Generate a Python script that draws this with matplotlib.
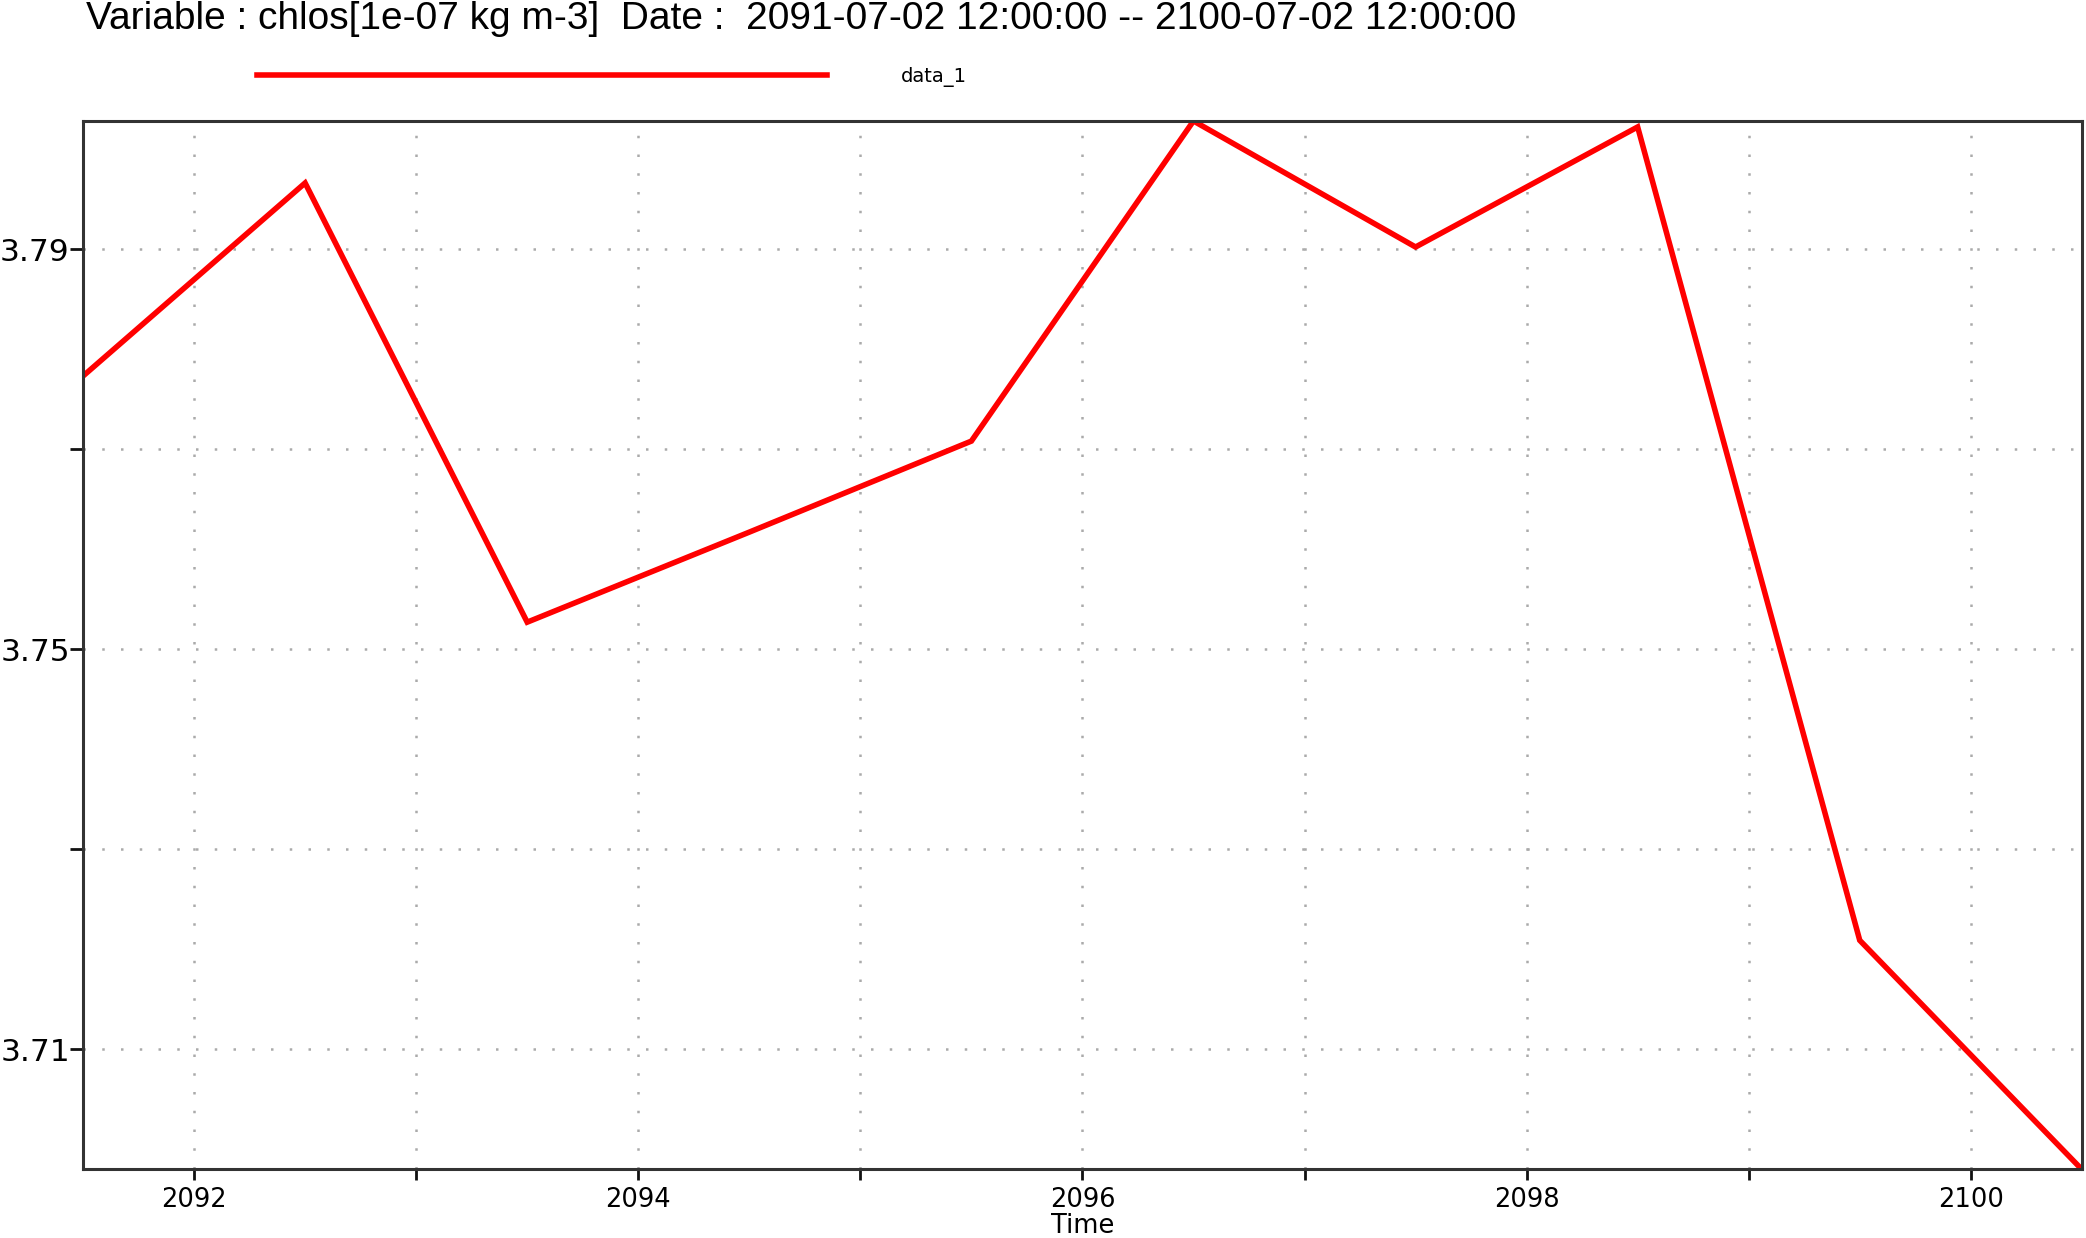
import numpy as np
import matplotlib
matplotlib.use('Agg')
import matplotlib.pyplot as plt

# annual means (mid-year), chlos in 1e-07 kg m-3
years = [2091.5, 2092.5, 2093.5, 2094.5, 2095.5, 2096.5, 2097.5, 2098.5, 2099.5, 2100.5]
chlos = [3.7773, 3.7966, 3.7527, 3.7617, 3.7708, 3.8028, 3.7902, 3.8022, 3.7209, 3.6980]

title = 'Variable : chlos[1e-07 kg m-3]  Date :  2091-07-02 12:00:00 -- 2100-07-02 12:00:00'
series_name = 'data_1'
ytick_vals = [3.71, 3.73, 3.75, 3.77, 3.79]
ytick_labels = ['3.71', '', '3.75', '', '3.79']
xtick_vals = list(range(2092, 2101))
xtick_labels = [str(y) if y % 2 == 0 else '' for y in xtick_vals]

fig = plt.figure(figsize=(20.86, 12.38), dpi=100)
ax = fig.add_axes([0.0398, 0.0554, 0.9582, 0.8469])

line, = ax.plot(years, chlos, color='#ff0000', lw=4, solid_joinstyle='miter', label=series_name)

ax.set_xlim(min(years), max(years))
ax.set_ylim(min(chlos), max(chlos))

ax.set_yticks(ytick_vals)
ax.set_yticklabels(ytick_labels)
ax.set_xticks(xtick_vals)
ax.set_xticklabels(xtick_labels)
ax.tick_params(axis='y', direction='out', length=9.5, width=2, color='#111111', labelsize=22.5, pad=0)
ax.tick_params(axis='x', direction='out', length=8, width=2, color='#111111', labelsize=18.5, pad=5)
ax.set_xlabel('Time', fontsize=18.5, labelpad=0)

ax.grid(True, color='#aaaaaa', linestyle=(0, (1, 6.5)), linewidth=1.8)
for s in ax.spines.values():
    s.set_color('#333333')
    s.set_linewidth(2.2)

fig.text(0.041, 0.985, title, fontsize=28, family='Liberation Sans', va='center', ha='left')

fig.legend(handles=[line], loc='center left', bbox_to_anchor=(257 / 2086, 1 - 77 / 1238),
           frameon=False, fontsize=14, handlelength=29.3, handletextpad=3.8,
           borderpad=0, borderaxespad=0)

fig.savefig('out.png', dpi=100)
